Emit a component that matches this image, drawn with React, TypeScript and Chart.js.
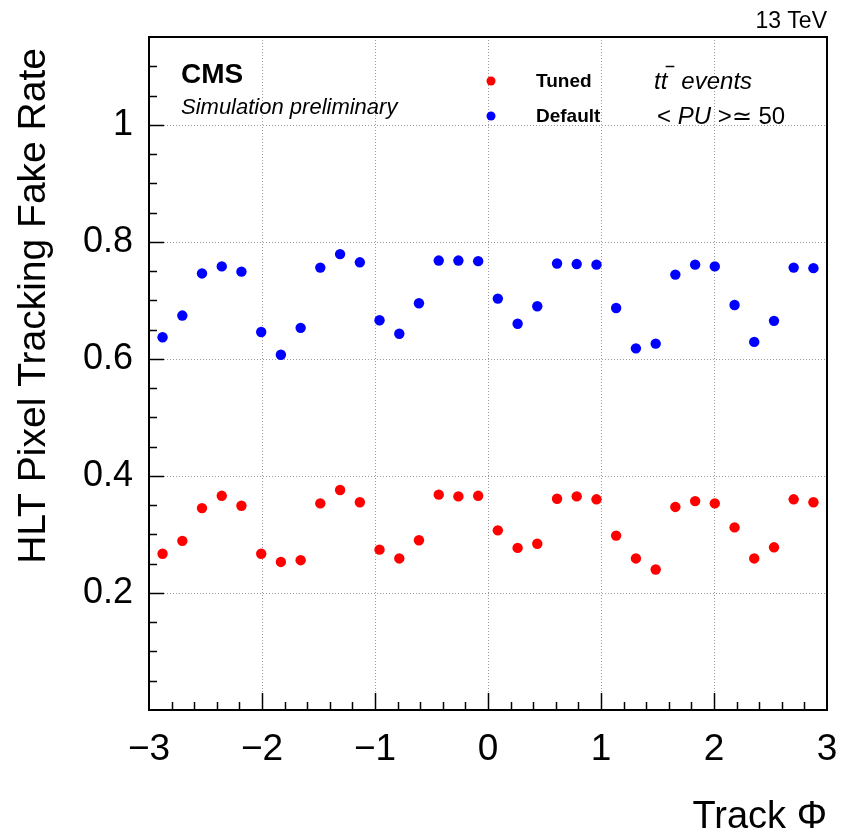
import React, { useEffect, useRef } from "react";
import { Chart, registerables } from "chart.js";

Chart.register(...registerables);

// Bin centres in track phi (36 bins over [-pi, pi], those inside [-3, 3])
const PHI = [
  -2.880, -2.705, -2.531, -2.356, -2.182, -2.007, -1.833, -1.658, -1.484, -1.309,
  -1.134, -0.960, -0.785, -0.611, -0.436, -0.262, -0.087, 0.087, 0.262, 0.436,
  0.611, 0.785, 0.960, 1.134, 1.309, 1.484, 1.658, 1.833, 2.007, 2.182,
  2.356, 2.531, 2.705, 2.880,
];

const TUNED = [
  0.267, 0.289, 0.345, 0.366, 0.349, 0.267, 0.253, 0.256, 0.353, 0.376,
  0.355, 0.274, 0.259, 0.290, 0.368, 0.365, 0.366, 0.307, 0.277, 0.284,
  0.361, 0.365, 0.360, 0.298, 0.259, 0.240, 0.347, 0.357, 0.353, 0.312,
  0.259, 0.278, 0.360, 0.355,
];

const DEFAULT = [
  0.637, 0.674, 0.746, 0.758, 0.749, 0.646, 0.607, 0.653, 0.756, 0.779,
  0.765, 0.666, 0.643, 0.695, 0.768, 0.768, 0.767, 0.703, 0.660, 0.690,
  0.763, 0.762, 0.761, 0.687, 0.618, 0.626, 0.744, 0.761, 0.758, 0.692,
  0.629, 0.665, 0.756, 0.755,
];

const SERIES_NAMES = ["Tuned", "Default"];
const SERIES_COLORS = ["#ff0000", "#0000ff"];

const X_TICKS = [-3, -2, -1, 0, 1, 2, 3];
const X_TICK_LABELS = ["\u22123", "\u22122", "\u22121", "0", "1", "2", "3"];
const Y_TICKS = [0.2, 0.4, 0.6, 0.8, 1.0];
const Y_TICK_LABELS = ["0.2", "0.4", "0.6", "0.8", "1"];

const X_MIN = -3;
const X_MAX = 3;
const Y_MIN = 0;
const Y_MAX = 1.15;
const X_MINOR_STEP = 0.2;
const Y_MINOR_STEP = 0.05;

const X_TITLE = "Track \u03A6";
const Y_TITLE = "HLT Pixel Tracking Fake Rate";

const FONT = "'Liberation Sans', Arial, Helvetica, 'DejaVu Sans', sans-serif";

const rootStyle = {
  id: "rootStyle",
  beforeDatasetsDraw(chart: any) {
    const { ctx, chartArea: a, scales } = chart;
    const x = scales.x;
    const y = scales.y;
    ctx.save();
    ctx.strokeStyle = "#9a9a9a";
    ctx.lineWidth = 1;
    ctx.setLineDash([1, 2]);
    for (const v of X_TICKS) {
      if (v <= X_MIN || v >= X_MAX) continue;
      const px = Math.round(x.getPixelForValue(v)) + 0.5;
      ctx.beginPath();
      ctx.moveTo(px, a.top);
      ctx.lineTo(px, a.bottom);
      ctx.stroke();
    }
    for (const v of Y_TICKS) {
      const py = Math.round(y.getPixelForValue(v)) + 0.5;
      ctx.beginPath();
      ctx.moveTo(a.left, py);
      ctx.lineTo(a.right, py);
      ctx.stroke();
    }
    ctx.restore();
  },
  afterDraw(chart: any) {
    const { ctx, chartArea: a, scales } = chart;
    const x = scales.x;
    const y = scales.y;
    ctx.save();
    ctx.setLineDash([]);
    ctx.strokeStyle = "#000";
    ctx.lineWidth = 1.5;

    // y ticks (inside)
    const nY = Math.round((Y_MAX - Y_MIN) / Y_MINOR_STEP);
    for (let i = 1; i < nY; i++) {
      const v = Y_MIN + i * Y_MINOR_STEP;
      const major = i % 4 === 0;
      const py = Math.round(y.getPixelForValue(v)) + 0.5;
      ctx.beginPath();
      ctx.moveTo(a.left, py);
      ctx.lineTo(a.left + (major ? 15 : 8), py);
      ctx.stroke();
    }
    // x ticks (inside)
    const nX = Math.round((X_MAX - X_MIN) / X_MINOR_STEP);
    for (let i = 1; i < nX; i++) {
      const v = X_MIN + i * X_MINOR_STEP;
      const major = i % 5 === 0;
      const px = Math.round(x.getPixelForValue(v)) + 0.5;
      ctx.beginPath();
      ctx.moveTo(px, a.bottom);
      ctx.lineTo(px, a.bottom - (major ? 17 : 8));
      ctx.stroke();
    }

    // frame
    ctx.lineWidth = 2;
    ctx.strokeRect(a.left, a.top, a.right - a.left, a.bottom - a.top);

    ctx.fillStyle = "#000";
    // axis titles
    ctx.font = `38px ${FONT}`;
    ctx.textAlign = "right";
    ctx.textBaseline = "alphabetic";
    ctx.fillText(X_TITLE, a.right, 828);

    ctx.save();
    ctx.translate(45, 48);
    ctx.rotate(-Math.PI / 2);
    ctx.font = `39px ${FONT}`;
    ctx.textAlign = "right";
    ctx.fillText(Y_TITLE, 0, 0);
    ctx.restore();

    // energy label
    ctx.font = `23px ${FONT}`;
    ctx.textAlign = "right";
    ctx.fillText("13 TeV", 827, 28);

    // CMS labels
    ctx.textAlign = "left";
    ctx.font = `bold 28px ${FONT}`;
    ctx.fillText("CMS", 181, 83);
    ctx.font = `italic 22px ${FONT}`;
    ctx.fillText("Simulation preliminary", 181, 114);

    // legend
    const legendY = [81, 116];
    for (let i = 0; i < SERIES_NAMES.length; i++) {
      ctx.fillStyle = SERIES_COLORS[i];
      ctx.beginPath();
      ctx.arc(491, legendY[i], 4.5, 0, Math.PI * 2);
      ctx.fill();
      ctx.fillStyle = "#000";
      ctx.font = `bold 19px ${FONT}`;
      ctx.textBaseline = "middle";
      ctx.fillText(SERIES_NAMES[i], 536, legendY[i] + 1);
    }
    ctx.textBaseline = "alphabetic";

    // process label
    ctx.font = `italic 24px ${FONT}`;
    const ttX = 654;
    ctx.fillText("tt", ttX, 89);
    const wt = ctx.measureText("t").width;
    const wtt = ctx.measureText("tt").width;
    ctx.lineWidth = 1.5;
    ctx.beginPath();
    ctx.moveTo(ttX + wt + 5, 66.5);
    ctx.lineTo(ttX + wtt + 7, 66.5);
    ctx.stroke();
    ctx.fillText("events", ttX + wtt + 14, 89);

    // pileup label
    let px = 657;
    ctx.font = `24px ${FONT}`;
    ctx.fillText("< ", px, 124);
    px += ctx.measureText("< ").width;
    ctx.font = `italic 24px ${FONT}`;
    ctx.fillText("PU", px, 124);
    px += ctx.measureText("PU").width;
    ctx.font = `24px ${FONT}`;
    ctx.fillText(" >\u2243 50", px, 124);

    ctx.restore();
  },
};

export default function App() {
  const canvasRef = useRef<HTMLCanvasElement | null>(null);

  useEffect(() => {
    document.body.style.margin = "0";
    const canvas = canvasRef.current;
    if (!canvas) return;

    const chart = new Chart(canvas, {
      type: "scatter",
      data: {
        datasets: [
          {
            label: SERIES_NAMES[0],
            data: PHI.map((p, i) => ({ x: p, y: TUNED[i] })),
            backgroundColor: SERIES_COLORS[0],
            borderColor: SERIES_COLORS[0],
            borderWidth: 0,
            pointRadius: 5.2,
            pointStyle: "circle",
            showLine: false,
          },
          {
            label: SERIES_NAMES[1],
            data: PHI.map((p, i) => ({ x: p, y: DEFAULT[i] })),
            backgroundColor: SERIES_COLORS[1],
            borderColor: SERIES_COLORS[1],
            borderWidth: 0,
            pointRadius: 5.2,
            pointStyle: "circle",
            showLine: false,
          },
        ],
      },
      options: {
        responsive: false,
        animation: false,
        events: [],
        layout: { padding: { left: 0, right: 14, top: 37, bottom: 0 } },
        plugins: {
          legend: { display: false },
          tooltip: { enabled: false },
          title: { display: false },
        },
        scales: {
          x: {
            type: "linear",
            min: X_MIN,
            max: X_MAX,
            afterBuildTicks: (s: any) => {
              s.ticks = X_TICKS.map((v) => ({ value: v }));
            },
            afterFit: (s: any) => {
              s.height = 121;
              s.paddingLeft = 0;
              s.paddingRight = 0;
            },
            grid: { display: false, drawTicks: false },
            border: { display: false },
            ticks: {
              autoSkip: false,
              maxRotation: 0,
              padding: 18,
              color: "#000",
              font: { family: FONT, size: 37 },
              callback: (v: any) => {
                const i = X_TICKS.indexOf(Number(v));
                return i >= 0 ? X_TICK_LABELS[i] : "";
              },
            },
          },
          y: {
            type: "linear",
            min: Y_MIN,
            max: Y_MAX,
            afterBuildTicks: (s: any) => {
              s.ticks = Y_TICKS.map((v) => ({ value: v }));
            },
            afterFit: (s: any) => {
              s.width = 149;
              s.paddingTop = 0;
              s.paddingBottom = 0;
            },
            grid: { display: false, drawTicks: false },
            border: { display: false },
            ticks: {
              autoSkip: false,
              padding: 16,
              color: "#000",
              font: { family: FONT, size: 36 },
              callback: (v: any) => {
                const i = Y_TICKS.findIndex((t) => Math.abs(t - Number(v)) < 1e-9);
                return i >= 0 ? Y_TICK_LABELS[i] : "";
              },
            },
          },
        },
      },
      plugins: [rootStyle],
    });

    return () => chart.destroy();
  }, []);

  return (
    <div style={{ width: 841, height: 831, background: "#fff" }}>
      <canvas ref={canvasRef} width={841} height={831} style={{ display: "block" }} />
    </div>
  );
}
